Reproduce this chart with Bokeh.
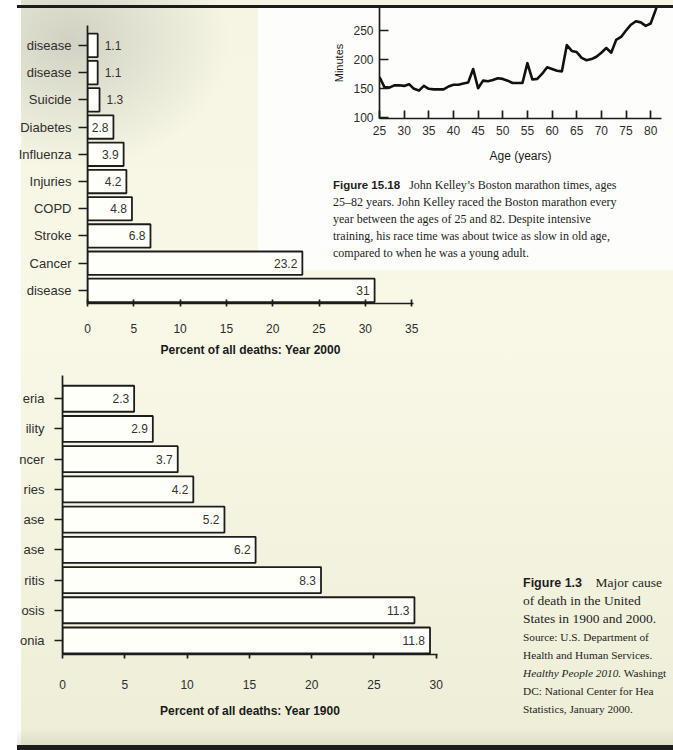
from bokeh.plotting import figure
from bokeh.models import Range1d, FixedTicker, Div, GridBox
from bokeh.embed import file_html
from bokeh.resources import INLINE
from bokeh.core.properties import value

SANS = "Liberation Sans"
SERIF = "Liberation Serif"
INK = "#1c1c1c"

# ---------------- data ----------------
# Year 2000 chart, listed bottom -> top (labels as visible on the cropped page)
causes_2000 = ["disease", "Cancer", "Stroke", "COPD", "Injuries", "Influenza",
               "Diabetes", "Suicide", "disease", "disease"]
pct_2000 = [31, 23.2, 6.8, 4.8, 4.2, 3.9, 2.8, 1.3, 1.1, 1.1]
ticks_2000 = [0, 5, 10, 15, 20, 25, 30, 35]

# Year 1900 chart, bottom -> top
causes_1900 = ["onia", "osis", "ritis", "ase", "ase", "ries", "ncer", "ility", "eria"]
pct_1900 = [11.8, 11.3, 8.3, 6.2, 5.2, 4.2, 3.7, 2.9, 2.3]              # printed labels
bar_len_1900 = [29.5, 28.25, 20.75, 15.5, 13.0, 10.5, 9.25, 7.25, 5.75]  # bar ends read on the axis
ticks_1900 = [0, 5, 10, 15, 20, 25, 30]

# John Kelley's Boston marathon times (ages 25-82)
ages = list(range(25, 83))
minutes = [170, 153, 152, 156, 156, 155, 158, 150, 147, 155,
           150, 149, 149, 149, 154, 157, 157, 159, 161, 184,
           151, 164, 163, 165, 168, 167, 164, 160, 160, 160,
           194, 166, 167, 176, 187, 184, 181, 180, 225, 215,
           213, 203, 199, 201, 205, 212, 220, 212, 234, 239,
           250, 260, 266, 264, 258, 262, 285, 310]
age_ticks = [25, 30, 35, 40, 45, 50, 55, 60, 65, 70, 75, 80]
minute_ticks = [100, 150, 200, 250]

# common plot borders (plots sharing a grid cell get aligned borders)
BL, BT, BB, BR = 72, 0, 70, 8


def base_fig(w, h, xr, yr, top, left):
    p = figure(width=w, height=h, x_range=Range1d(*xr), y_range=Range1d(*yr),
               output_backend="svg", toolbar_location=None,
               min_border_left=BL, min_border_top=BT,
               min_border_bottom=BB, min_border_right=BR,
               margin=(top, 0, 0, left))
    p.background_fill_color = None
    p.border_fill_color = None
    p.outline_line_color = None
    p.xgrid.visible = False
    p.ygrid.visible = False
    for ax in (p.xaxis[0], p.yaxis[0]):
        ax.axis_line_color = INK
        ax.axis_line_width = 1.7
        ax.major_tick_line_color = INK
        ax.major_tick_line_width = 1.7
        ax.minor_tick_line_color = None
        ax.major_label_text_font = SANS
        ax.major_label_text_color = "#2e2e2e"
        ax.axis_label_text_font = SANS
        ax.axis_label_text_color = "#1a1a1a"
    return p


def add_bars(p, names, lengths, labels, outside_below):
    ys = list(range(1, len(names) + 1))
    p.hbar(y=ys, left=0, right=lengths, height=0.86,
           fill_color="#fffffa", line_color=INK, line_width=1.8)
    ins = [i for i, v in enumerate(lengths) if v >= outside_below]
    outs = [i for i, v in enumerate(lengths) if v < outside_below]
    p.text(x=[lengths[i] for i in ins], y=[ys[i] for i in ins],
           text=[labels[i] for i in ins], text_align="right", text_baseline="middle",
           x_offset=-5, text_font=value(SANS), text_font_size="12px", text_color="#333333")
    if outs:
        p.text(x=[lengths[i] for i in outs], y=[ys[i] for i in outs],
               text=[labels[i] for i in outs], text_align="left", text_baseline="middle",
               x_offset=7, text_font=value(SANS), text_font_size="12px", text_color="#333333")
    p.yaxis.ticker = FixedTicker(ticks=ys)
    p.yaxis.major_label_overrides = {y: n for y, n in zip(ys, names)}


# ---------------- top bar chart (2000) ----------------
top = base_fig(BL + 326 + BR, BT + 278 + BB, (0, 35.2), (0.52, 10.73), 25, 87 - BL)
add_bars(top, causes_2000, pct_2000, [f"{v:g}" for v in pct_2000], 2)
top.xaxis.ticker = FixedTicker(ticks=ticks_2000)
top.xaxis.major_tick_in = 4
top.xaxis.major_tick_out = 3
top.xaxis.major_label_standoff = 17
top.xaxis.major_label_text_font_size = "12px"
top.xaxis.axis_label = "Percent of all deaths: Year 2000"
top.xaxis.axis_label_text_font_style = "bold"
top.xaxis.axis_label_text_font_size = "12px"
top.xaxis.axis_label_standoff = 7
top.yaxis.major_tick_in = 0
top.yaxis.major_tick_out = 9
top.yaxis.major_label_standoff = 7
top.yaxis.major_label_text_font_size = "13px"

# ---------------- bottom bar chart (1900) ----------------
bot = base_fig(BL + 375 + BR, BT + 279 + BB, (0, 30.1), (0.536, 9.77), 375, 62 - BL)
add_bars(bot, causes_1900, bar_len_1900, [f"{v:g}" for v in pct_1900], 0)
bot.xaxis.ticker = FixedTicker(ticks=ticks_1900)
bot.xaxis.major_tick_in = 0
bot.xaxis.major_tick_out = 4
bot.xaxis.major_label_standoff = 21
bot.xaxis.major_label_text_font_size = "12px"
bot.xaxis.axis_label = "Percent of all deaths: Year 1900"
bot.xaxis.axis_label_text_font_style = "bold"
bot.xaxis.axis_label_text_font_size = "12px"
bot.xaxis.axis_label_standoff = 12
bot.yaxis.major_tick_in = 0
bot.yaxis.major_tick_out = 8
bot.yaxis.major_label_standoff = 10
bot.yaxis.major_label_text_font_size = "13px"

# ---------------- inset line chart ----------------
lc = base_fig(BL + 282 + BR, BT + 111 + BB, (25, 82.2), (99.1, 289.5), 7, 379 - BL)
lc.line(ages, minutes, line_width=2.6, line_color="#111111", line_join="round")
lc.xaxis.ticker = FixedTicker(ticks=age_ticks)
lc.xaxis.major_tick_in = 8
lc.xaxis.major_tick_out = 0
lc.xaxis.major_label_standoff = 7
lc.xaxis.major_label_text_font_size = "12px"
lc.xaxis.axis_label = "Age (years)"
lc.xaxis.axis_label_text_font_style = "normal"
lc.xaxis.axis_label_text_font_size = "12px"
lc.xaxis.axis_label_standoff = 11
lc.yaxis.ticker = FixedTicker(ticks=minute_ticks)
lc.yaxis.major_tick_in = 9
lc.yaxis.major_tick_out = 0
lc.yaxis.major_label_standoff = 6
lc.yaxis.major_label_text_font_size = "12px"
lc.yaxis.axis_label = "Minutes"
lc.yaxis.axis_label_text_font_style = "normal"
lc.yaxis.axis_label_text_font_size = "11px"
lc.yaxis.axis_label_standoff = 5

# ---------------- captions ----------------
cap1_html = ("<span style='font-family:Liberation Sans;font-weight:bold;font-size:11.5px'>Figure 15.18</span>"
             "&nbsp;&nbsp;&nbsp;John Kelley\u2019s Boston marathon times, ages<br>"
             "25\u201382 years. John Kelley raced the Boston marathon every<br>"
             "year between the ages of 25 and 82. Despite intensive<br>"
             "training, his race time was about twice as slow in old age,<br>"
             "compared to when he was a young adult.")
cap1 = Div(text=cap1_html, width=320, height=92, margin=(177, 0, 0, 333),
           styles={"font-family": SERIF, "font-size": "12px", "line-height": "17px",
                   "color": "#1e1e1e", "white-space": "nowrap"})

cap2_html = ("<span style='font-family:Liberation Sans;font-weight:bold;font-size:12.5px'>Figure 1.3</span>"
             "&nbsp;&nbsp;&nbsp;&nbsp;Major cause<br>"
             "of death in the United<br>"
             "States in 1900 and 2000.<br>"
             "<span style='font-size:11.3px'>Source: U.S. Department of<br>"
             "Health and Human Services.<br>"
             "<i>Healthy People 2010.</i> Washingt<br>"
             "DC: National Center for Hea<br>"
             "Statistics, January 2000.</span>")
cap2 = Div(text=cap2_html, width=150, height=150, margin=(574, 0, 0, 523),
           styles={"font-family": SERIF, "font-size": "13.5px", "line-height": "18px",
                   "color": "#1e1e1e", "white-space": "nowrap"})

# ---------------- scanned page background ----------------
bg_css = ("linear-gradient(#1c1c1c,#1c1c1c) 17px 5px / 656px 3px no-repeat, "
          "linear-gradient(#1c1c1c,#1c1c1c) 17px 745px / 656px 5px no-repeat, "
          "linear-gradient(rgba(190,190,175,0),rgba(190,190,175,0.35)) 17px 728px / 656px 17px no-repeat, "
          "linear-gradient(#ffffff,#ffffff) 0px 0px / 21px 750px no-repeat, "
          "linear-gradient(#fdfdfb,#fdfdfb) 258px 8px / 415px 262px no-repeat, "
          "radial-gradient(ellipse 160px 130px at 70px 40px, rgba(205,206,192,0.9), rgba(205,206,192,0)), "
          "linear-gradient(180deg, #f6f5e3 0%, #f9f8e7 45%, #eeedd6 100%)")
bg = Div(text="", width=673, height=750, margin=(0, 0, 0, 0),
         styles={"background": bg_css})

page = GridBox(children=[(bg, 0, 0), (top, 0, 0), (bot, 0, 0), (lc, 0, 0), (cap1, 0, 0), (cap2, 0, 0)],
               spacing=0, width=673, height=750)

open("out.html", "w").write(file_html(page, INLINE))
